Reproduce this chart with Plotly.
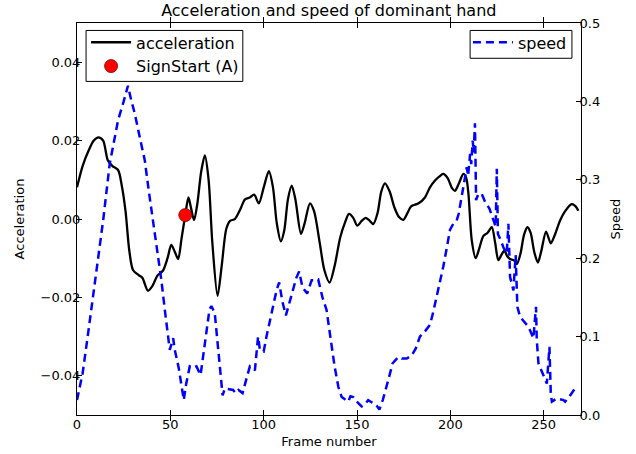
import plotly.graph_objects as go

# ---- data ----
acc_frames = [0, 3, 6, 9, 11.5, 14, 16.5, 19, 22, 24, 26, 28, 30, 33, 35, 38, 40.5, 43, 46, 48.5,
              50.5, 52.5, 54.2, 56, 58, 59.7, 61, 62.7, 64.5, 66.5, 68.5, 70.5, 72.5, 75.3, 77.5,
              80, 82, 84.6, 87.5, 90, 92.6, 94.9, 97.4, 100, 102.8, 105, 107, 109.2, 111, 113,
              115, 117, 120, 122, 124.8, 127, 130, 132.5, 135.3, 138, 141, 143.5, 145.7, 148,
              150.1, 152.5, 154.6, 156.5, 158.7, 161, 163, 165, 167.5, 170, 172.5, 174.8, 177,
              179, 183, 186.4, 189, 191.8, 194, 196.2, 198.5, 201, 202.5, 204.5, 207, 208.5,
              209.7, 211.5, 213.6, 215.5, 217.7, 220, 222.2, 224, 225.7, 227.3, 229, 230.5, 232,
              234, 235.6, 237.5, 239.5, 241.3, 243, 245, 246.9, 248.8, 251.3, 253.8, 256, 258.8,
              261.5, 265, 267, 268.6]
acc_values = [0.0081, 0.0135, 0.0172, 0.0200, 0.0208, 0.0200, 0.0150, 0.0135, 0.0125, 0.0085,
              0.0020, -0.0080, -0.0130, -0.0143, -0.0150, -0.0183, -0.0170, -0.0145, -0.0132,
              -0.0100, -0.0066, -0.0085, -0.0102, -0.0050, 0.0010, 0.0055, 0.0030, -0.0003,
              0.0040, 0.0120, 0.0162, 0.0100, -0.0060, -0.0196, -0.0120, -0.0025, -0.0005,
              0.0000, 0.0025, 0.0050, 0.0055, 0.0062, 0.0040, 0.0080, 0.0122, 0.0080, -0.0010,
              -0.0057, -0.0030, 0.0050, 0.0085, 0.0050, -0.0038, -0.0010, 0.0040, 0.0020,
              -0.0060, -0.0130, -0.0162, -0.0120, -0.0047, -0.0010, 0.0013, 0.0003, -0.0017,
              -0.0005, 0.0003, -0.0003, -0.0013, 0.0015, 0.0070, 0.0091, 0.0070, 0.0030,
              0.0005, -0.0002, 0.0015, 0.0032, 0.0040, 0.0055, 0.0080, 0.0098, 0.0108, 0.0115,
              0.0105, 0.0078, 0.0072, 0.0090, 0.0115, 0.0105, 0.0064, -0.0055, -0.0100,
              -0.0075, -0.0043, -0.0035, -0.0021, -0.0060, -0.0105, -0.0092, -0.0081, -0.0095,
              -0.0102, -0.0105, -0.0115, -0.0090, -0.0040, -0.0021, -0.0035, -0.0085, -0.0111,
              -0.0080, -0.0032, -0.0062, -0.0040, -0.0004, 0.0020, 0.0038, 0.0033, 0.0021]

speed_frames = [0, 3, 6, 8.6, 11, 14, 17.5, 20, 22, 25, 27.3, 29, 31, 34, 36.3, 38.5, 40.8, 43,
                45.2, 47, 48.8, 49.7, 51.5, 52.4, 54.5, 56, 57.2, 58.5, 60.4, 62, 64, 66.2, 67.8,
                69.4, 71, 72, 73.8, 75, 76.5, 78, 79.2, 81, 83.6, 85, 86.5, 88.7, 90.5, 92.6,
                95.3, 97, 98, 100, 101.5, 103.3, 105, 106.9, 108.3, 110, 111.9, 114, 115.8,
                117.5, 119, 120.8, 123.3, 125.7, 127.5, 129.2, 131.5, 133.7, 136, 138, 140,
                141.8, 143.5, 145.3, 146.5, 148, 150.7, 152.5, 154, 156, 158.7, 160.5, 162,
                163.8, 166.8, 169.1, 172.1, 174, 176.6, 179.3, 181.5, 183.7, 186.5, 189.1,
                190.8, 192.7, 194.5, 196.2, 198, 199.8, 201.6, 203.4, 204.5, 206.1, 207.5,
                208.8, 209.5, 210.6, 211.2, 212, 212.5, 213.2, 213.8, 215, 216.8, 218.6, 221,
                223, 224.3, 224.9, 225.5, 226.8, 228.4, 230.2, 231.1, 232, 233.8, 235, 235.9,
                237.4, 239, 241, 242.7, 244.5, 245.9, 246.3, 247.2, 249.9, 251.7, 253.1, 253.8,
                254.4, 257, 260.6, 261.5, 264.2, 267.4]
speed_values = [0.019, 0.053, 0.105, 0.151, 0.195, 0.248, 0.320, 0.350, 0.376, 0.400, 0.420,
                0.402, 0.384, 0.350, 0.325, 0.285, 0.248, 0.210, 0.172, 0.135, 0.100, 0.083,
                0.098, 0.083, 0.060, 0.035, 0.019, 0.040, 0.062, 0.060, 0.062, 0.051, 0.080,
                0.112, 0.135, 0.139, 0.130, 0.100, 0.062, 0.025, 0.034, 0.033, 0.032, 0.028,
                0.032, 0.028, 0.045, 0.062, 0.057, 0.100, 0.083, 0.081, 0.100, 0.121, 0.140,
                0.159, 0.169, 0.145, 0.127, 0.145, 0.163, 0.175, 0.183, 0.163, 0.155, 0.172,
                0.172, 0.173, 0.150, 0.134, 0.095, 0.062, 0.036, 0.023, 0.020, 0.017, 0.024,
                0.023, 0.015, 0.011, 0.013, 0.019, 0.015, 0.012, 0.007, 0.019, 0.045, 0.066,
                0.074, 0.072, 0.072, 0.076, 0.085, 0.100, 0.107, 0.115, 0.131, 0.151, 0.170,
                0.189, 0.212, 0.236, 0.244, 0.248, 0.257, 0.280, 0.295, 0.316, 0.305, 0.333,
                0.320, 0.350, 0.335, 0.372, 0.274, 0.282, 0.282, 0.272, 0.263, 0.248, 0.240,
                0.314, 0.231, 0.224, 0.214, 0.206, 0.244, 0.176, 0.159, 0.204, 0.138, 0.125,
                0.120, 0.115, 0.108, 0.098, 0.138, 0.096, 0.066, 0.051, 0.040, 0.087, 0.028,
                0.017, 0.021, 0.019, 0.017, 0.025, 0.036]

sign_start_frame = [58]
sign_start_value = [0.001]

acc_tickvals = [-0.04, -0.02, 0.0, 0.02, 0.04]
acc_ticktext = ["\u22120.04", "\u22120.02", "0.00", "0.02", "0.04"]
speed_tickvals = [0.0, 0.1, 0.2, 0.3, 0.4, 0.5]
speed_ticktext = ["0.0", "0.1", "0.2", "0.3", "0.4", "0.5"]
frame_tickvals = [0, 50, 100, 150, 200, 250]

FONT = "DejaVu Sans"

fig = go.Figure()
fig.add_trace(go.Scatter(x=acc_frames, y=acc_values, name="acceleration", mode="lines",
                         line=dict(color="black", width=2.3, shape="spline", smoothing=0.8),
                         legend="legend"))
fig.add_trace(go.Scatter(x=sign_start_frame, y=sign_start_value, name="SignStart (A)",
                         mode="markers",
                         marker=dict(color="red", size=13, line=dict(color="#800000", width=0.8)),
                         legend="legend"))
fig.add_trace(go.Scatter(x=speed_frames, y=speed_values, name="speed", mode="lines",
                         line=dict(color="#0000ff", width=2.5, dash="8px,5px"),
                         yaxis="y2", legend="legend2"))

axis_common = dict(showgrid=False, zeroline=False, ticks="inside", ticklen=5,
                   tickcolor="black", linecolor="black", linewidth=1, showline=True,
                   tickfont=dict(family=FONT, size=13, color="black"))

# legend frames (white boxes with black border, like matplotlib legends)
legend_box = dict(type="rect", xref="paper", yref="paper", layer="above",
                  line=dict(color="black", width=1), fillcolor="white")

fig.update_layout(
    width=636, height=454,
    margin=dict(l=77, r=55, t=23, b=39, autoexpand=False),
    paper_bgcolor="white", plot_bgcolor="white",
    font=dict(family=FONT, size=13, color="black"),
    hovermode=False,
    title=dict(text="Acceleration and speed of dominant hand", x=0.517, xanchor="center",
               y=0.976, yanchor="middle", font=dict(family=FONT, size=16, color="black")),
    xaxis=dict(range=[0, 270], tickvals=frame_tickvals, mirror="allticks",
               ticklabelstandoff=-3,
               title=dict(text="Frame number", standoff=6, font=dict(size=13)),
               **axis_common),
    yaxis=dict(range=[-0.05, 0.05], tickvals=acc_tickvals, ticktext=acc_ticktext,
               ticklabelstandoff=-7,
               title=dict(text="Acceleration", standoff=13, font=dict(size=13)),
               **axis_common),
    yaxis2=dict(range=[0, 0.5], tickvals=speed_tickvals, ticktext=speed_ticktext,
                overlaying="y", side="right", ticklabelstandoff=-5,
                title=dict(text="Speed", standoff=11, font=dict(size=13)),
                **axis_common),
    legend=dict(x=0.018, y=0.994, xanchor="left", yanchor="top",
                borderwidth=0, bgcolor="rgba(0,0,0,0)",
                font=dict(family=FONT, size=16, color="black"), itemwidth=40,
                tracegroupgap=0),
    legend2=dict(x=0.982, y=0.994, xanchor="right", yanchor="top",
                 borderwidth=0, bgcolor="rgba(0,0,0,0)",
                 font=dict(family=FONT, size=16, color="black"), itemwidth=40),
    shapes=[
        dict(legend_box, x0=0.018, x1=0.329, y0=0.851, y1=0.981),
        dict(legend_box, x0=0.780, x1=0.982, y0=0.910, y1=0.981),
    ],
    showlegend=True,
)

fig.write_html("out.html", config={"displayModeBar": False},
               post_script="document.body.style.margin='0';")
